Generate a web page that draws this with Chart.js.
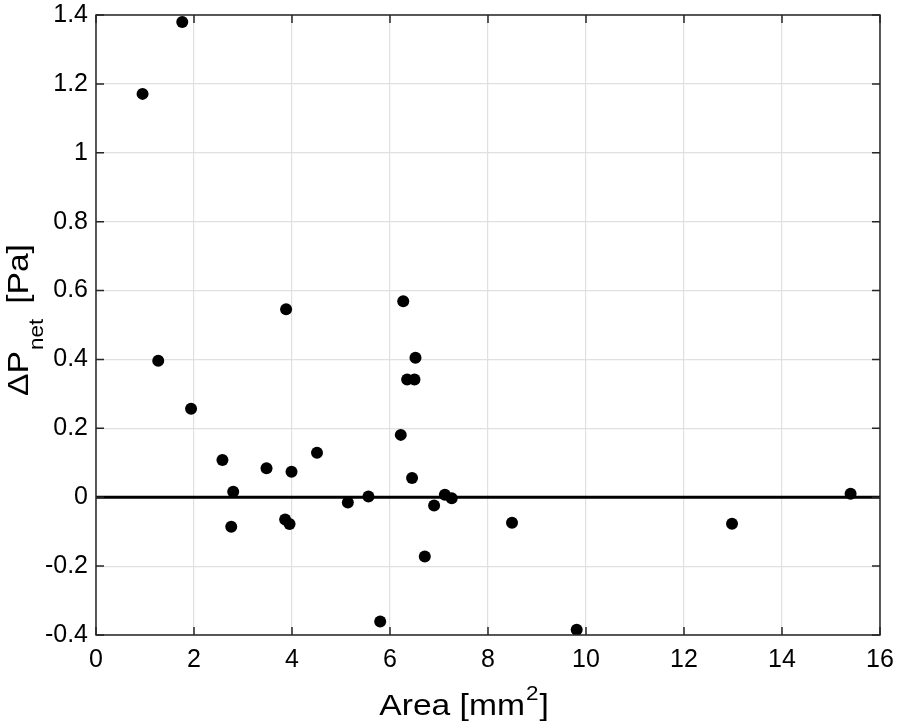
<!DOCTYPE html>
<html>
<head>
<meta charset="utf-8">
<script src="https://cdn.jsdelivr.net/npm/chart.js@4"></script>
<style>
    html, body { margin: 0; padding: 0; background: #ffffff; }
    #wrap { width: 898px; height: 724px; position: relative; }
</style>
</head>
<body>
<div id="wrap"><canvas id="dpChart"></canvas></div>
<script>
// Area [mm^2] vs net pressure difference [Pa]
const areaValues = [
    0.95, 1.76, 3.88, 1.27, 1.94, 2.58, 2.80, 2.76, 3.48, 3.99,
    4.51, 3.86, 3.95, 5.14, 5.56, 5.80, 6.27, 6.52, 6.35, 6.50,
    6.22, 6.45, 6.90, 7.12, 7.26, 6.71, 8.49, 12.98, 15.40, 9.81,
];
const dpValues = [
    1.171, 1.38, 0.546, 0.396, 0.257, 0.108, 0.016, -0.086, 0.084, 0.074,
    0.129, -0.065, -0.078, -0.015, 0.002, -0.361, 0.569, 0.405, 0.342, 0.342,
    0.181, 0.056, -0.024, 0.007, -0.003, -0.172, -0.074, -0.077, 0.010, -0.385,
];
// horizontal reference line at zero
const zeroLineX = [0, 16];
const zeroLineY = [0, 0];

const xRange = [0, 16];
const xStep = 2;
const yRange = [-0.4, 1.4];
const yStep = 0.2;

const FONT = "'Liberation Sans', Arial, Helvetica, sans-serif";

const points = areaValues.map((a, i) => ({ x: a, y: dpValues[i] }));
const zeroLine = zeroLineX.map((x, i) => ({ x: x, y: zeroLineY[i] }));

// box, inward ticks and axis titles (MATLAB look)
const frameAndTitles = {
    id: "frameAndTitles",
    afterDraw(chart) {
        const ctx = chart.ctx;
        const area = chart.chartArea;
        const xs = chart.scales.x;
        const ys = chart.scales.y;
        const tickLen = 8;

        ctx.save();
        ctx.strokeStyle = "#262626";
        ctx.lineWidth = 1.5;
        ctx.strokeRect(area.left, area.top, area.right - area.left, area.bottom - area.top);

        ctx.beginPath();
        xs.ticks.forEach((t) => {
            const px = xs.getPixelForValue(t.value);
            ctx.moveTo(px, area.bottom);
            ctx.lineTo(px, area.bottom - tickLen);
            ctx.moveTo(px, area.top);
            ctx.lineTo(px, area.top + tickLen);
        });
        ys.ticks.forEach((t) => {
            const py = ys.getPixelForValue(t.value);
            ctx.moveTo(area.left, py);
            ctx.lineTo(area.left + tickLen, py);
            ctx.moveTo(area.right, py);
            ctx.lineTo(area.right - tickLen, py);
        });
        ctx.stroke();

        ctx.fillStyle = "#000000";
        ctx.textBaseline = "alphabetic";
        ctx.textAlign = "left";

        // x title: Area [mm^2]
        const big = "30px " + FONT;
        const small = "20px " + FONT;
        ctx.font = big;
        const w1 = ctx.measureText("Area [mm").width;
        const w3 = ctx.measureText("]").width;
        ctx.font = small;
        const w2 = ctx.measureText("2").width;
        const sx = 1.12;
        ctx.save();
        ctx.translate(463, 715);
        ctx.scale(sx, 1);
        let x0 = -(w1 + w2 + w3) / 2;
        ctx.font = big;
        ctx.fillText("Area [mm", x0, 0);
        ctx.font = small;
        ctx.fillText("2", x0 + w1 + 1, -15);
        ctx.font = big;
        ctx.fillText("]", x0 + w1 + w2 + 2, 0);
        ctx.restore();

        // y title: ΔP_net [Pa]
        ctx.font = big;
        const a1 = ctx.measureText("\u0394P").width;
        const a3 = ctx.measureText(" [Pa]").width;
        ctx.font = small;
        const a2 = ctx.measureText("net").width;
        ctx.save();
        ctx.translate(28, 320);
        ctx.rotate(-Math.PI / 2);
        ctx.scale(sx, 1);
        let y0 = -(a1 + a2 + a3 + 6) / 2;
        ctx.font = big;
        ctx.fillText("\u0394P", y0, 0);
        ctx.font = small;
        ctx.fillText("net", y0 + a1 + 1, 15);
        ctx.font = big;
        ctx.fillText(" [Pa]", y0 + a1 + a2 + 6, 0);
        ctx.restore();

        ctx.restore();
    },
};

const dpCtx = document.getElementById("dpChart").getContext("2d");
const dpChart = new Chart(dpCtx, {
    type: "scatter",
    data: {
        datasets: [
            {
                label: "\u0394P net",
                data: points,
                backgroundColor: "#000000",
                borderColor: "#000000",
                pointRadius: 6,
                pointBorderWidth: 0,
                order: 0,
            },
            {
                label: "zero",
                data: zeroLine,
                showLine: true,
                borderColor: "#000000",
                borderWidth: 3,
                pointRadius: 0,
                order: 1,
            },
        ],
    },
    options: {
        responsive: true,
        maintainAspectRatio: false,
        animation: false,
        events: [],
        layout: {
            padding: { left: 0, right: 18, top: 15, bottom: 0 },
        },
        plugins: {
            legend: { display: false },
            tooltip: { enabled: false },
        },
        scales: {
            x: {
                type: "linear",
                min: xRange[0],
                max: xRange[1],
                afterFit(scale) {
                    scale.height = 89;
                    scale.paddingLeft = 0;
                    scale.paddingRight = 0;
                },
                ticks: {
                    stepSize: xStep,
                    padding: 10,
                    color: "#000000",
                    maxRotation: 0,
                    font: { size: 25, family: FONT },
                },
                grid: {
                    color: "#e0e0e0",
                    lineWidth: 1.2,
                    drawTicks: false,
                },
                border: { display: false },
            },
            y: {
                type: "linear",
                min: yRange[0],
                max: yRange[1],
                afterFit(scale) {
                    scale.width = 96;
                    scale.paddingTop = 0;
                    scale.paddingBottom = 0;
                },
                ticks: {
                    stepSize: yStep,
                    padding: 8,
                    color: "#000000",
                    font: { size: 25, family: FONT },
                    callback: function (value) {
                        return String(Number(value.toFixed(1)));
                    },
                },
                grid: {
                    color: "#e0e0e0",
                    lineWidth: 1.2,
                    drawTicks: false,
                },
                border: { display: false },
            },
        },
    },
    plugins: [frameAndTitles],
});
</script>
</body>
</html>
